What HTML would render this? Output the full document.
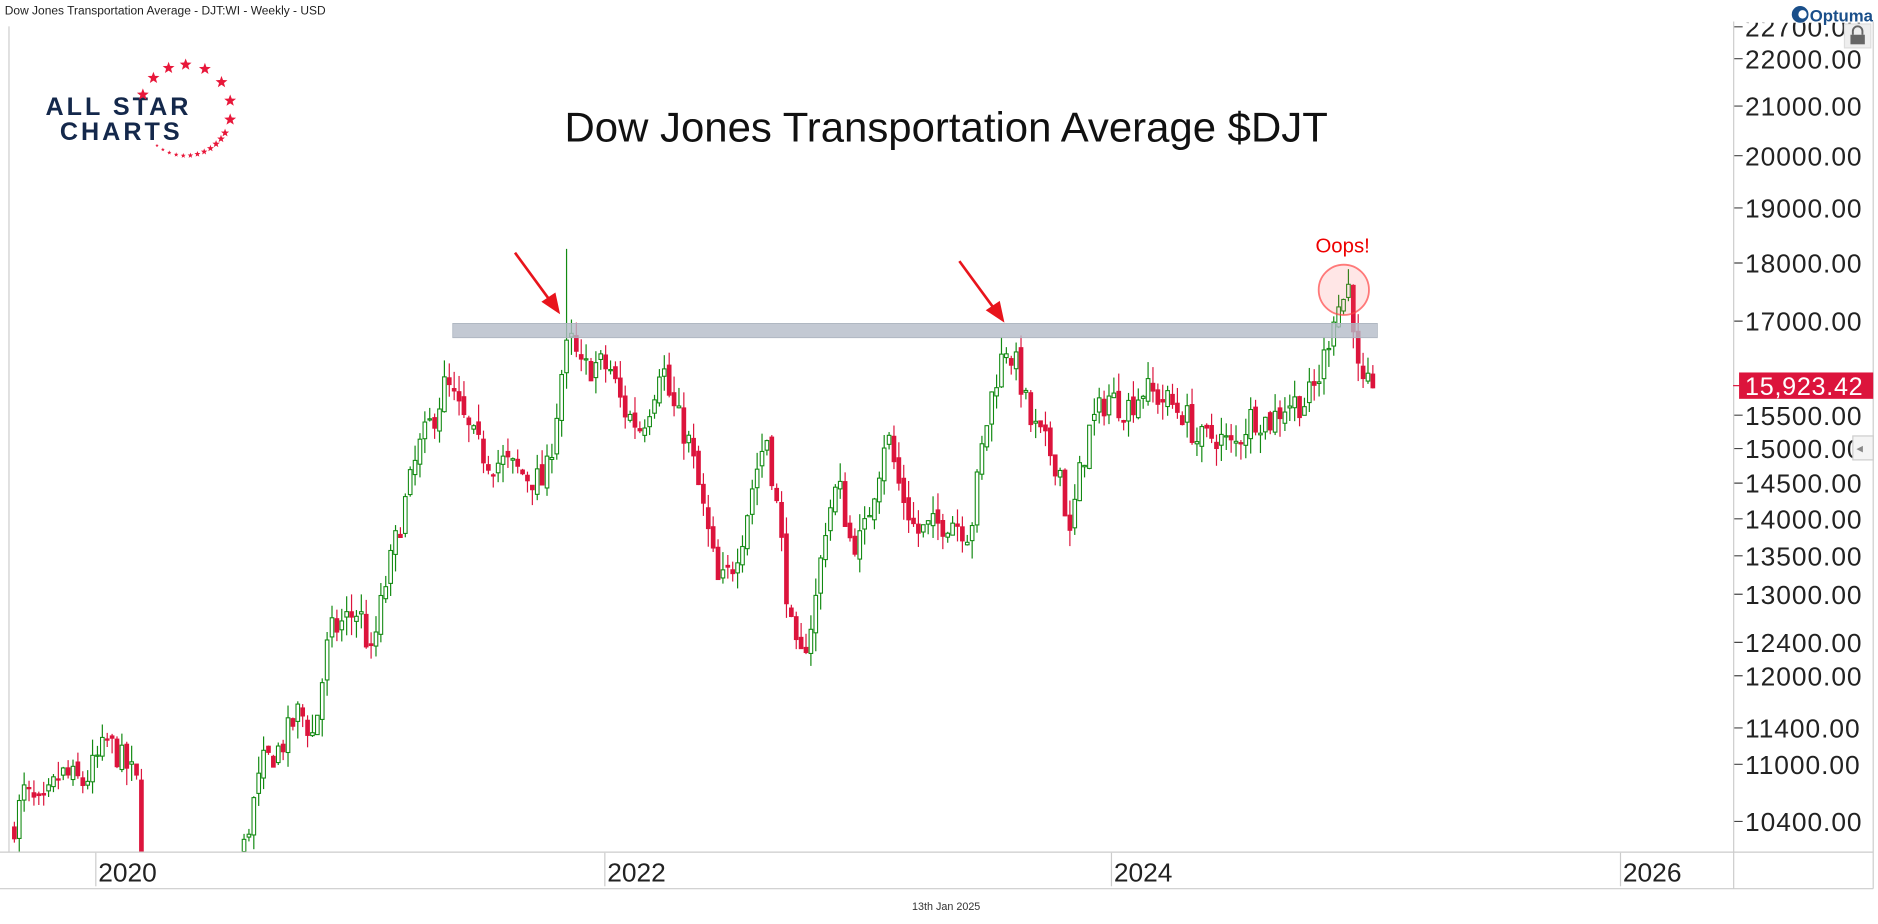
<!DOCTYPE html>
<html><head><meta charset="utf-8"><style>
html,body{margin:0;padding:0;background:#fff;width:1878px;height:924px;overflow:hidden;}
svg{display:block;font-family:"Liberation Sans",sans-serif;}
</style></head><body>
<svg id="s" width="1878" height="924" viewBox="0 0 1568 771.5" preserveAspectRatio="none" xmlns="http://www.w3.org/2000/svg">
<defs>
<clipPath id="pc"><rect x="8" y="20" width="1439" height="691"/></clipPath>
<clipPath id="ac"><rect x="1448" y="19" width="116" height="692"/></clipPath>
</defs>
<rect x="0" y="0" width="1568" height="771.5" fill="#fff"/>
<text x="4" y="12" font-size="10" fill="#222">Dow Jones Transportation Average - DJT:WI - Weekly - USD</text>
<line x1="7.5" y1="22" x2="7.5" y2="711" stroke="#ccc"/>
<line x1="1447.5" y1="18" x2="1447.5" y2="742" stroke="#ccc"/>
<line x1="1564" y1="18" x2="1564" y2="742" stroke="#ccc"/>
<line x1="0" y1="711.5" x2="1564" y2="711.5" stroke="#ccc"/>
<line x1="0" y1="742" x2="1564" y2="742" stroke="#ccc"/>
<g id="candles" clip-path="url(#pc)"></g>
<rect x="378" y="270" width="772" height="12" fill="#b4bcc8" fill-opacity="0.8" stroke="#a8b0bc" stroke-width="0.6"/>
<circle cx="1122" cy="242" r="21" fill="#f55" fill-opacity="0.15" stroke="#f44" stroke-opacity="0.7" stroke-width="1.5"/>
<text x="1121" y="211" font-size="17" fill="#e00" text-anchor="middle">Oops!</text>
<g stroke="#e8141c" stroke-width="2.2" fill="#e8141c">
<line x1="430" y1="211" x2="460" y2="252"/><polygon points="466,260 454,252 463,246"/>
<line x1="801" y1="218" x2="831" y2="259"/><polygon points="837,267 825,259 834,253"/>
</g>
<g id="yax" font-size="22" fill="#222" letter-spacing="0.8" clip-path="url(#ac)"></g>
<line x1="1447" y1="322" x2="1455" y2="322" stroke="#dc143c"/>
<rect x="1452" y="311" width="112" height="22" fill="#dc143c"/>
<text x="1457" y="330" font-size="21" fill="#fff" letter-spacing="0.6">15,923.42</text>
<rect x="1547" y="364" width="17" height="20" fill="#f4f4f4" stroke="#ccc"/>
<text x="1550" y="378" font-size="11" fill="#888">◂</text>
<rect x="1540" y="20" width="22" height="20" fill="#eee" stroke="#ddd"/>
<rect x="1545" y="29" width="12" height="8" fill="#666"/><path d="M1547,29 v-3 a4,4 0 0 1 8,0 v3" fill="none" stroke="#666" stroke-width="1.6"/>
<circle cx="1503" cy="12" r="7" fill="#1a4f8a"/><circle cx="1505" cy="12" r="3.5" fill="#fff"/>
<text x="1511" y="18" font-size="14" font-weight="bold" fill="#1a4f8a">Optuma</text>
<g font-size="22" fill="#222">
<line x1="80" y1="712" x2="80" y2="740" stroke="#ccc"/><text x="82" y="736">2020</text>
<line x1="505" y1="712" x2="505" y2="740" stroke="#ccc"/><text x="507" y="736">2022</text>
<line x1="928" y1="712" x2="928" y2="740" stroke="#ccc"/><text x="930" y="736">2024</text>
<line x1="1353" y1="712" x2="1353" y2="740" stroke="#ccc"/><text x="1355" y="736">2026</text>
</g>
<text x="790" y="760" font-size="9" fill="#333" text-anchor="middle">13th Jan 2025</text>
<text x="790" y="118" font-size="35" fill="#111" text-anchor="middle">Dow Jones Transportation Average $DJT</text>
<g font-family="Liberation Sans, sans-serif" font-weight="bold" fill="#14284b" font-size="21" letter-spacing="2.5">
<text x="38" y="96">ALL STAR</text><text x="50" y="117">CHARTS</text>
</g>
<g id="stars" fill="#e8173a"></g>
</svg>
<script>
(function(){
var NS="http://www.w3.org/2000/svg";
function Y(v){return 49+(Math.log(22000)-Math.log(v))*850;}
var ax=document.getElementById('yax');
[[22700,0],[22000],[21000],[20000],[19000],[18000],[17000],[15500],[15000],[14500],[14000],[13500],[13000],[12400],[12000],[11400],[11000],[10400]].forEach(function(a){
 var v=a[0],y=Y(v);
 var l=document.createElementNS(NS,'line');l.setAttribute('x1',1447);l.setAttribute('x2',1455);l.setAttribute('y1',y);l.setAttribute('y2',y);l.setAttribute('stroke','#444');ax.appendChild(l);
 var t=document.createElementNS(NS,'text');t.setAttribute('x',1457);t.setAttribute('y',y+8);t.textContent=v+'.00';ax.appendChild(t);
});
var P=[[10,10300],[20,10700],[35,10500],[50,10900],[70,10800],[90,11250],[110,10900],[114,10800],[118,9000],[130,7500],[160,8500],[190,9500],[205,10200],[212,10600],[220,11000],[235,11200],[250,11600],[262,11300],[275,12500],[290,12700],[300,12800],[310,12200],[320,13000],[335,14000],[350,15000],[365,15600],[372,16000],[380,15700],[390,15300],[400,15000],[410,14800],[420,14800],[440,14600],[455,14500],[463,15300],[470,16300],[476,16700],[485,16200],[500,16300],[510,16200],[520,15600],[535,15300],[545,15800],[552,16400],[560,15700],[575,15100],[590,13900],[600,13100],[610,13300],[620,13800],[630,14600],[640,15200],[650,14000],[660,12600],[667,12100],[680,12800],[690,14000],[700,14500],[710,13700],[720,13700],[735,14800],[740,15300],[750,14500],[765,13800],[780,13900],[795,14000],[810,13800],[820,15000],[830,16000],[840,16600],[850,16200],[860,15400],[875,15000],[885,14700],[893,13700],[900,14500],[910,15300],[925,15800],[940,15600],[955,15900],[975,15700],[990,15500],[1000,15100],[1015,15200],[1030,15000],[1045,15500],[1060,15400],[1075,15700],[1090,15700],[1100,16000],[1108,16600],[1114,17200],[1120,17300],[1126,17600],[1131,16900],[1135,15900],[1140,15900],[1146,15950],[1150,15923]];
function interp(x){for(var i=1;i<P.length;i++){if(x<=P[i][0]){var a=P[i-1],b=P[i],t=(x-a[0])/(b[0]-a[0]);return a[1]+(b[1]-a[1])*t;}}return P[P.length-1][1];}
var seed=7;function r(){seed=(seed*16807)%2147483647;return seed/2147483647;}
var g=document.getElementById('candles');
var prev=interp(10);
var B=711;
for(var x=12;x<=1150;x+=4.08){
 var c=interp(x)*(1+(r()-0.5)*0.03);
 if(x>1146)c=15923;
 var o=prev*(1+(r()-0.5)*0.01);
 var h=Math.max(o,c)*(1+r()*0.018),l=Math.min(o,c)*(1-r()*0.018);
 if(Math.abs(x-473)<2.1)h=18250;
 prev=c;
 var up=c>=o,col=up?'#128a12':'#dc143c';
 var yh=Y(h),yl=Math.min(Y(l),B),yo=Y(o),yc=Y(c);
 if(yh>=B-1)continue;
 var ln=document.createElementNS(NS,'line');ln.setAttribute('x1',x);ln.setAttribute('x2',x);ln.setAttribute('y1',yh);ln.setAttribute('y2',yl);ln.setAttribute('stroke',col);ln.setAttribute('stroke-width',1);g.appendChild(ln);
 var top=Math.min(yo,yc),bot=Math.min(Math.max(yo,yc),B);
 if(top>=B-1)continue;
 var rc=document.createElementNS(NS,'rect');rc.setAttribute('x',x-1.5);rc.setAttribute('width',3);rc.setAttribute('y',top);rc.setAttribute('height',Math.max(bot-top,1));
 rc.setAttribute('fill',up?'#fff':col);rc.setAttribute('stroke',col);rc.setAttribute('stroke-width',0.9);g.appendChild(rc);
}
var st=document.getElementById('stars');
function star(cx,cy,R){var p=[];for(var i=0;i<10;i++){var a=-Math.PI/2+i*Math.PI/5,rr=i%2?R*0.42:R;p.push((cx+rr*Math.cos(a)).toFixed(1)+','+(cy+rr*Math.sin(a)).toFixed(1));}var e=document.createElementNS(NS,'polygon');e.setAttribute('points',p.join(' '));st.appendChild(e);}
var cx=155,cy=92,R=38;
var big=[-160,-135,-112,-90,-65,-38,-12,12];
big.forEach(function(d){var a=d*Math.PI/180;star(cx+R*Math.cos(a),cy+R*Math.sin(a),5.2);});
for(var d=30;d<=132;d+=9){var a=d*Math.PI/180;var s=3.6-(d-30)/102*2.2;star(cx+R*Math.cos(a),cy+R*Math.sin(a),s);}
})();
</script>
</body></html>
